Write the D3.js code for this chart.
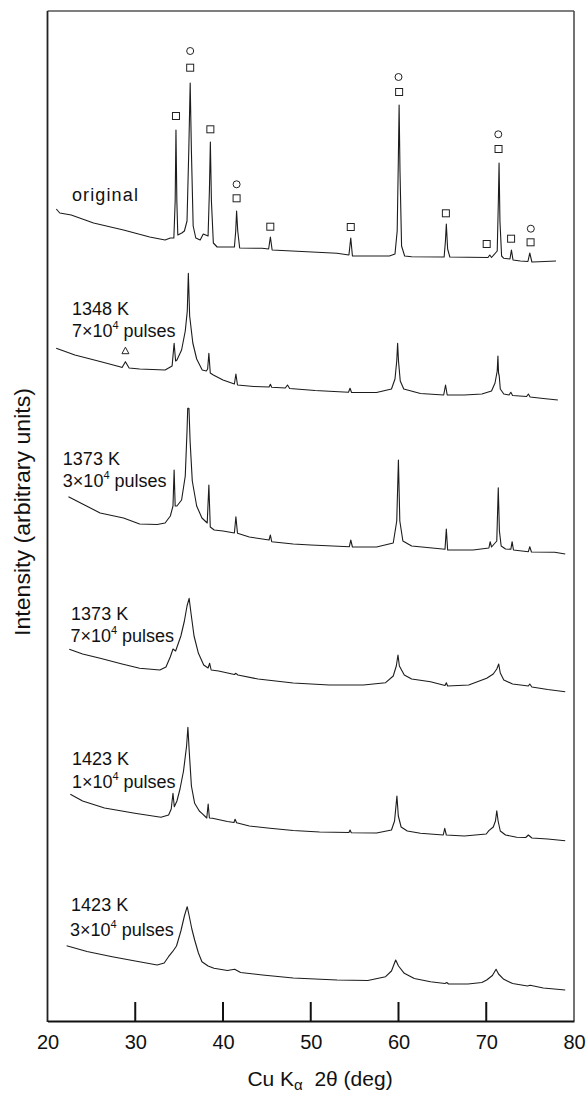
<!DOCTYPE html>
<html>
<head>
<meta charset="utf-8">
<script src="https://cdn.jsdelivr.net/npm/d3@7/dist/d3.min.js"></script>
<style>
  html, body { margin: 0; padding: 0; background: #fff; }
  svg { display: block; font-family: "Liberation Sans", Arial, Helvetica, sans-serif; }
</style>
</head>
<body>
<svg id="chart" width="587" height="1093"></svg>
<script>
// ---------------- DATA (2θ in degrees, intensity in arbitrary units, stacked) ----------------
const xTicks = [20, 30, 40, 50, 60, 70, 80];
const xInnerTicks = [30, 40, 50, 60, 70];
const xTitleMain = "Cu K";
const xTitleSub = "\u03b1";
const xTitleRest = "\u00a0\u00a02\u03b8 (deg)";
const yTitle = "Intensity (arbitrary units)";

const seriesNames = ["original", "1348K_7e4", "1373K_3e4", "1373K_7e4", "1423K_1e4", "1423K_3e4"];
const labelLine1 = ["original", "1348 K", "1373 K", "1373 K", "1423 K", "1423 K"];
const labelMant  = [null, "7\u00d710", "3\u00d710", "7\u00d710", "1\u00d710", "3\u00d710"];
const labelExp   = [null, "4", "4", "4", "4", "4"];
const labelUnit  = [null, " pulses", " pulses", " pulses", " pulses", " pulses"];

const original = [
  [21.0,812],[21.4,808],[22.7,806],[25.25,798],[28.66,791],[31.65,784],[33.4,781],[34.0,783],[34.4,783],
  [34.55,820],[34.64,891],[34.74,820],[34.85,786],[35.3,788],[35.6,790],
  [35.9,800],[36.1,870],[36.26,938],[36.4,870],[36.6,795],[36.9,783],
  [37.4,781],[37.75,787],[38.3,785],
  [38.45,830],[38.56,879],[38.68,820],[38.9,778],[39.33,774],
  [41.3,774],[41.45,790],[41.55,810],[41.68,790],[41.9,773],
  [44.45,772.7],[45.2,772],[45.4,784],[45.6,771],
  [52.99,767.7],[54.35,766],[54.56,783],[54.75,765],
  [58.96,765],[59.6,767],[59.85,790],[59.98,860],[60.07,916],[60.17,850],[60.35,775],[60.7,765],
  [61.5,764.3],[65.2,764],[65.35,780],[65.45,797],[65.6,772],[65.85,764],
  [67.92,763.7],[70.2,763.5],[70.4,766],[70.6,763.5],
  [71.25,770],[71.38,820],[71.46,858],[71.56,800],[71.75,765],[72.0,762.7],
  [72.7,762],[72.87,771],[73.05,761],[73.89,760],
  [74.75,759.5],[74.96,768],[75.2,759],[76.0,759.3],[77.95,760]
];
const s1348K_7e4 = [
  [20.99,672.7],[23.12,666],[26.1,659.3],[28.24,654.3],[28.5,653.5],[28.88,659.3],[29.3,653],[30.5,652],[33.4,651],
  [34.2,655],[34.43,677.7],[34.6,660],[34.75,661],[35.28,671],[35.7,690],[35.93,710],[36.05,747.7],[36.2,705],
  [36.56,678],[37.0,662],[37.63,651],[38.1,650],[38.25,652],[38.39,667.7],[38.55,648],[38.9,646],
  [40.0,641],[41.3,637],[41.47,647],[41.65,636],[43.5,634.5],
  [45.25,634],[45.4,636.7],[45.55,633.8],[47.1,633],[47.35,636],[47.6,632.5],
  [50.5,630.5],[54.3,628.7],[54.48,632.7],[54.65,628.5],[57.5,628.5],
  [59.2,632],[59.6,642],[59.8,660],[59.9,677.7],[60.0,660],[60.2,640],[60.6,632],[62.5,627.5],
  [65.15,626],[65.36,636],[65.55,626],[67.5,626],[69.5,627],[70.6,630],[71.0,638],
  [71.25,650],[71.33,665],[71.4,648],[71.48,645],[71.6,632],[72.0,627],
  [72.6,626],[72.8,628.7],[73.0,625.5],[74.6,624.5],[74.8,627],[75.0,624],[76.5,622.5],[78.16,621]
];
const s1373K_3e4 = [
  [22.39,524.3],[24.0,517],[26.0,508],[28.66,503],[30.5,497],[32.5,496.5],[33.4,498],[34.0,505],
  [34.3,515],[34.43,551],[34.55,515],[34.75,515],[35.28,521],[35.7,545],[35.9,590],
  [35.98,612.7],[36.12,612.7],[36.25,580],[36.5,540],[37.0,515],[37.6,503],[38.2,498],
  [38.39,536],[38.55,494],[39.0,491],[40.0,490],[41.3,488],[41.47,504.3],[41.65,487.7],
  [43.0,484],[45.25,481],[45.4,486],[45.55,479.3],[48.0,477],[50.0,476],
  [54.4,474.3],[54.56,481],[54.75,474],[57.5,474],[59.4,478],[59.8,500],[59.99,561],[60.15,500],
  [60.5,480],[61.5,475],[65.3,471.7],[65.45,492],[65.6,471],[68.5,471],
  [70.3,473],[70.45,479.3],[70.6,474],[71.2,480],[71.37,533.3],[71.5,490],[71.7,475],[72.2,472],
  [72.8,471.7],[72.95,479.3],[73.1,471],[74.8,469.3],[74.96,474.3],[75.15,469],[77.8,468.7],[79.0,467]
];
const s1373K_7e4 = [
  [22.48,371.7],[24.0,367],[26.0,362.7],[28.5,357],[30.5,352.7],[32.8,351],[33.5,354],[34.0,364.3],
  [34.3,372],[34.6,370],[35.2,385],[35.6,400],[35.9,415],[36.14,422.7],[36.35,408],[36.7,385],
  [37.2,367.7],[37.8,356],[38.3,353],[38.48,357.7],[38.65,351],[39.5,350],
  [41.3,346.5],[41.47,347.7],[41.7,346],[44.0,342],[48.0,338],[52.1,336],[56.0,336],
  [58.53,338.3],[59.4,345],[59.75,355],[59.94,366],[60.1,355],[60.66,346],[61.5,342],[63.65,339.3],
  [65.3,335.5],[65.45,338.3],[65.6,335],[68.0,336],[70.05,342.7],[70.8,347],[71.2,352],
  [71.42,357],[71.6,348],[72.0,341],[73.0,337],[74.8,335],[74.96,337],[75.2,334],[77.0,331.5],[79.0,329.3]
];
const s1423K_1e4 = [
  [22.6,226.7],[24.0,220],[26.5,213],[29.95,207.7],[32.93,203.7],[33.8,206],[34.1,212],
  [34.3,227.7],[34.45,214.3],[34.75,220],[35.1,232],[35.5,250],[35.85,275],[36.0,293.7],
  [36.15,270],[36.4,235],[36.77,217.7],[37.3,210],[37.6,207.7],[38.15,203],[38.31,217],
  [38.45,203],[38.8,202.7],[40.5,199.5],[41.25,198.5],[41.38,201.7],[41.55,198.3],
  [43.0,195],[45.35,192.7],[48.0,190.5],[51.0,189],[54.35,188.5],[54.48,191],[54.62,188.3],
  [57.5,188],[59.2,191],[59.55,200],[59.82,225],[59.98,205],[60.3,194],[61.0,190],[62.5,187.7],
  [65.1,186],[65.27,192.7],[65.45,186],[67.5,185],[70.0,187],[70.3,190.3],[70.8,194],
  [71.05,200],[71.2,210.3],[71.35,200],[71.6,190],[72.2,186],[73.47,183.7],[74.5,183.5],
  [74.8,186],[75.2,183],[77.0,182],[79.0,180.3]
];
const s1423K_3e4 = [
  [22.18,75.3],[24.5,69.5],[27.38,64.3],[30.0,60],[32.5,56],[33.3,58],[33.79,64.3],
  [34.25,69.3],[34.7,75],[35.2,90],[35.6,105],[35.92,114.3],[36.15,105],[36.45,92],
  [36.77,81],[37.2,68],[37.6,59.3],[38.3,55],[38.97,52.7],[40.5,50.5],[41.33,51.7],
  [42.0,48.5],[44.5,46],[48.0,43],[53.0,41],[56.5,40.5],[58.53,44.3],[59.2,50],
  [59.68,61],[60.0,55],[60.66,47.7],[61.8,42.5],[63.65,39.3],[65.3,37.5],[65.5,38.5],
  [65.7,37],[67.92,37],[69.5,38.5],[70.05,41],[70.7,45.5],[71.12,51.7],[71.4,47],
  [72.0,41.7],[73.0,37.5],[74.7,35],[75.0,35.8],[76.5,33],[79.0,31]
];
const seriesData = [original, s1348K_7e4, s1373K_3e4, s1373K_7e4, s1423K_1e4, s1423K_3e4];

// label anchors in data units (2θ, intensity) for line 1 and line 2
const labelX1 = [22.78, 22.78, 21.75, 22.69, 22.78, 22.69];
const labelX2 = [null, 22.78, 21.75, 22.61, 22.78, 22.56];
const labelY1 = [820, 706, 556, 401, 256, 110.3];
const labelY2 = [null, 683.7, 534.3, 379.3, 232.7, 85];

// phase markers (2θ, intensity)
const squareMarks = [
  [34.64,905],[36.26,953.3],[38.56,891.7],[41.55,822.7],[45.39,794.3],[54.56,794],
  [60.07,929],[65.4,807.7],[70.05,777],[71.4,872],[72.83,782.3],[75.05,778.7]
];
const circleMarks = [[36.26,970],[41.55,836.7],[60.0,944],[71.37,886.7],[75.08,792.3]];
const triangleMarks = [[28.88,670.3]];

// ---------------- LAYOUT ----------------
const svg = d3.select("#chart");
const plot = { left: 47.5, right: 574, top: 11, bottom: 1021 };
const x = d3.scaleLinear().domain([20, 80]).range([plot.left, plot.right]);
const y = d3.scaleLinear().domain([0, 1010]).range([plot.bottom, plot.top]);

// frame
svg.append("line").attr("x1", plot.left).attr("x2", plot.right).attr("y1", plot.top).attr("y2", plot.top)
  .attr("stroke", "#555").attr("stroke-width", 1.4);
svg.append("line").attr("x1", plot.right).attr("x2", plot.right).attr("y1", plot.top).attr("y2", plot.bottom)
  .attr("stroke", "#444").attr("stroke-width", 1.5);
svg.append("line").attr("x1", plot.left).attr("x2", plot.left).attr("y1", plot.top).attr("y2", plot.bottom + 1)
  .attr("stroke", "#222").attr("stroke-width", 1.8);

// bottom axis with inward ticks
const xAxis = d3.axisBottom(x).tickValues(xTicks).tickSize(0).tickPadding(14).tickFormat(d3.format("d"));
const gx = svg.append("g").attr("transform", `translate(0,${plot.bottom})`).call(xAxis);
gx.select(".domain").attr("stroke", "#111").attr("stroke-width", 2.2);
gx.selectAll(".tick text").attr("font-size", 20).attr("fill", "#111")
  .attr("font-family", "'Liberation Sans', Arial, sans-serif").attr("dy", "0.71em");
svg.append("g").selectAll("line").data(xInnerTicks).join("line")
  .attr("x1", d => x(d)).attr("x2", d => x(d))
  .attr("y1", plot.bottom).attr("y2", plot.bottom - 19)
  .attr("stroke", "#111").attr("stroke-width", 2);

// x title
const xt = svg.append("text").attr("x", 320).attr("y", 1086).attr("text-anchor", "middle")
  .attr("font-size", 21).attr("fill", "#111");
xt.append("tspan").text(xTitleMain);
xt.append("tspan").attr("font-size", 15).attr("dy", 4).text(xTitleSub);
xt.append("tspan").attr("dy", -4).text(xTitleRest);

// y title
svg.append("text").attr("transform", "translate(30,512) rotate(-90)")
  .attr("text-anchor", "middle").attr("font-size", 22).attr("fill", "#111")
  .attr("textLength", 248).attr("lengthAdjust", "spacingAndGlyphs").text(yTitle);

// traces
const line = d3.line().x(d => x(d[0])).y(d => y(d[1]));
svg.append("g").selectAll("path").data(seriesData).join("path")
  .attr("d", line).attr("fill", "none").attr("stroke", "#1c1c1c").attr("stroke-width", 1.1)
  .attr("stroke-linejoin", "round");

// labels
const lg = svg.append("g").attr("font-size", 18).attr("fill", "#111");
seriesNames.forEach((n, i) => {
  const t1 = lg.append("text").attr("x", x(labelX1[i])).attr("y", y(labelY1[i])).text(labelLine1[i]);
  if (i === 0) t1.attr("textLength", 66).attr("lengthAdjust", "spacing");
  if (labelMant[i]) {
    const t2 = lg.append("text").attr("x", x(labelX2[i])).attr("y", y(labelY2[i]));
    t2.append("tspan").text(labelMant[i]);
    t2.append("tspan").attr("font-size", 11).attr("dy", -8).text(labelExp[i]);
    t2.append("tspan").attr("dy", 8).text(labelUnit[i]);
  }
});

// markers
const mg = svg.append("g").attr("fill", "none").attr("stroke", "#222").attr("stroke-width", 1);
mg.selectAll("rect").data(squareMarks).join("rect")
  .attr("x", d => x(d[0]) - 3.5).attr("y", d => y(d[1]) - 3.5).attr("width", 7).attr("height", 7);
mg.selectAll("circle").data(circleMarks).join("circle")
  .attr("cx", d => x(d[0])).attr("cy", d => y(d[1])).attr("r", 3.5);
mg.selectAll("path").data(triangleMarks).join("path")
  .attr("d", d => `M${x(d[0])},${y(d[1]) - 3.5}L${x(d[0]) + 3.5},${y(d[1]) + 3}L${x(d[0]) - 3.5},${y(d[1]) + 3}Z`);
</script>
</body>
</html>
